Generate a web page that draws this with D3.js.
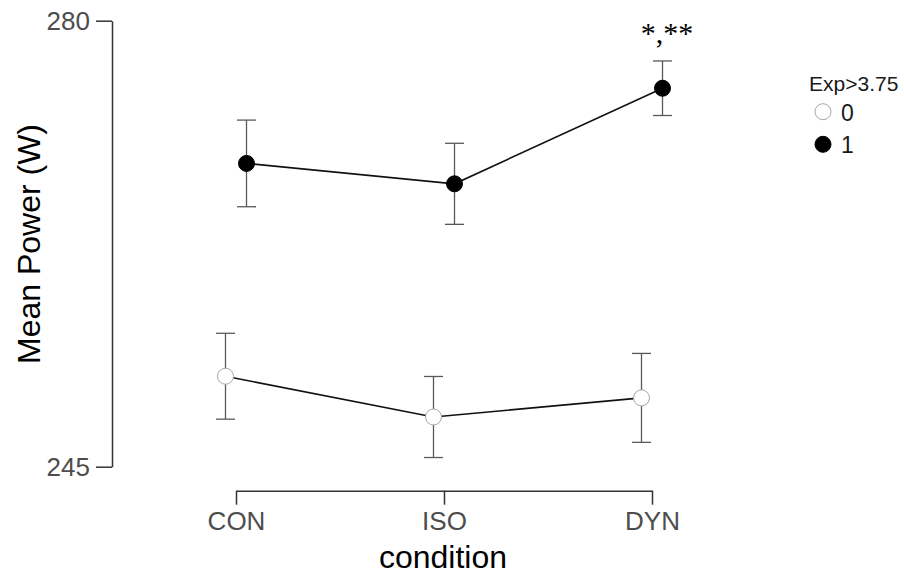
<!DOCTYPE html>
<html>
<head>
<meta charset="utf-8">
<script src="https://cdn.jsdelivr.net/npm/d3@7"></script>
<style>
  html, body { margin: 0; padding: 0; background: #fff; }
  svg { display: block; font-family: Arial, "Liberation Sans", sans-serif; }
</style>
</head>
<body>
<svg id="chart" width="904" height="574"></svg>
<script>
// ---- data ----
const conditions = ["CON", "ISO", "DYN"];
const groups = ["0", "1"];
const means0 = [252.1, 248.9, 250.4];
const se0    = [3.37, 3.18, 3.49];
const means1 = [268.8, 267.2, 274.7];
const se1    = [3.40, 3.18, 2.14];
const yTicks = [245, 280];
const annotation = "*,**";
const legendTitle = "Exp>3.75";

const series = [
  { key: "0", means: means0, se: se0, fill: "#ffffff", stroke: "#a6a6a6", dodge: -10.5 },
  { key: "1", means: means1, se: se1, fill: "#000000", stroke: "#000000", dodge: 10.5 }
];

const svg = d3.select("#chart");

const x = d3.scalePoint().domain(conditions).range([236, 652]);
const y = d3.scaleLinear().domain([245, 280]).range([466.7, 20.7]);

// Y axis
const yAxis = svg.append("g")
  .attr("transform", "translate(112,0)")
  .call(d3.axisLeft(y).tickValues(yTicks).tickSize(16).tickSizeOuter(0).tickPadding(6));
yAxis.select(".domain").attr("stroke", "#333").attr("stroke-width", 1.5);
yAxis.selectAll(".tick line").attr("stroke", "#333").attr("stroke-width", 1.5);
yAxis.selectAll(".tick text").attr("fill", "#4d4d4d").style("font-size", "26px")
  .style("font-family", "Arial, 'Liberation Sans', sans-serif");

// X axis
const xAxis = svg.append("g")
  .attr("transform", "translate(0,490.7)")
  .call(d3.axisBottom(x).tickSize(14).tickSizeOuter(0).tickPadding(7));
xAxis.select(".domain").attr("stroke", "#333").attr("stroke-width", 1.5);
xAxis.selectAll(".tick line").attr("stroke", "#333").attr("stroke-width", 1.5);
xAxis.selectAll(".tick text").attr("fill", "#4d4d4d").style("font-size", "26px")
  .style("font-family", "Arial, 'Liberation Sans', sans-serif");

// Axis titles
svg.append("text")
  .attr("x", 443).attr("y", 567.5)
  .attr("text-anchor", "middle")
  .style("font-size", "32px").attr("fill", "#000")
  .text("condition");

svg.append("text")
  .attr("transform", "translate(40,244) rotate(-90)")
  .attr("text-anchor", "middle")
  .style("font-size", "32px").attr("fill", "#000")
  .text("Mean Power (W)");

// Lines
const line = d3.line().x(d => d.x).y(d => d.y);
series.forEach(s => {
  const pts = conditions.map((c, i) => ({ x: x(c) + s.dodge, y: y(s.means[i]) }));
  svg.append("path").attr("d", line(pts))
    .attr("fill", "none").attr("stroke", "#111").attr("stroke-width", 1.6);
});

// Error bars
series.forEach(s => {
  const g = svg.append("g").attr("stroke", "#595959").attr("stroke-width", 1.3);
  conditions.forEach((c, i) => {
    const cx = x(c) + s.dodge;
    const lo = y(s.means[i] - s.se[i]);
    const hi = y(s.means[i] + s.se[i]);
    g.append("line").attr("x1", cx).attr("x2", cx).attr("y1", lo).attr("y2", hi);
    g.append("line").attr("x1", cx - 9.5).attr("x2", cx + 9.5).attr("y1", lo).attr("y2", lo);
    g.append("line").attr("x1", cx - 9.5).attr("x2", cx + 9.5).attr("y1", hi).attr("y2", hi);
  });
});

// Points
series.forEach(s => {
  svg.append("g").selectAll("circle")
    .data(conditions.map((c, i) => ({ c, v: s.means[i] })))
    .join("circle")
    .attr("cx", d => x(d.c) + s.dodge)
    .attr("cy", d => y(d.v))
    .attr("r", 8)
    .attr("fill", s.fill)
    .attr("stroke", s.stroke)
    .attr("stroke-width", 1);
});

// Annotation
svg.append("text")
  .attr("x", x("DYN") + 15).attr("y", 43)
  .attr("text-anchor", "middle")
  .style("font-family", "'Liberation Serif', 'Times New Roman', serif")
  .style("font-size", "30px").attr("fill", "#000")
  .text(annotation);

// Legend
const lg = svg.append("g");
lg.append("text").attr("x", 809).attr("y", 91)
  .style("font-size", "21px").attr("fill", "#1a1a1a").text(legendTitle);
series.forEach((s, i) => {
  const cy = 111.7 + i * 32.6;
  lg.append("circle").attr("cx", 823).attr("cy", cy).attr("r", 8)
    .attr("fill", s.fill).attr("stroke", s.stroke).attr("stroke-width", 1);
  lg.append("text").attr("x", 841).attr("y", cy + 9)
    .style("font-size", "23px").attr("fill", "#1a1a1a").text(groups[i]);
});
</script>
</body>
</html>
